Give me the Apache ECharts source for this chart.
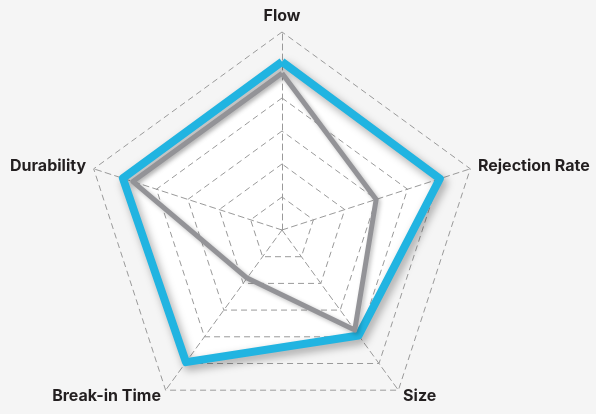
<!DOCTYPE html>
<html>
<head>
<meta charset="utf-8">
<script src="https://cdn.jsdelivr.net/npm/echarts@6/dist/echarts.min.js"></script>
<style>
  html, body { margin: 0; padding: 0; background: #f5f5f5; }
  #chart { width: 596px; height: 414px; }
</style>
</head>
<body>
<div id="chart"></div>
<script>
// axes, counter-clockwise from the top (echarts radar order)
const indicators = ['Flow', 'Durability', 'Break-in Time', 'Size', 'Rejection Rate']
const maxValue = 6
// outer (blue) profile and inner (grey) profile, in ring units
const blueValues = [5.1, 5.07, 4.95, 3.95, 5.03]
const greyValues = [4.75, 4.75, 1.8, 3.75, 3.0]

const chart = echarts.init(document.getElementById('chart'))

// white fill under the grid, lines above it
function areaSeries(values) {
  return {
    type: 'radar',
    symbol: 'none',
    z: 1,
    silent: true,
    lineStyle: { width: 0, opacity: 0 },
    areaStyle: { color: '#ffffff', opacity: 1 },
    data: [{ value: values }]
  }
}

const option = {
  backgroundColor: '#f5f5f5',
  radar: {
    z: 2,
    center: [282, 230],
    radius: 198,
    startAngle: 90,
    splitNumber: 6,
    shape: 'polygon',
    indicator: indicators.map(n => ({ name: n, max: maxValue, min: 0 })),
    axisName: {
      color: '#231f20',
      fontFamily: 'Inter',
      fontWeight: 'bold',
      fontSize: 16
    },
    nameGap: 8,
    axisLine: {
      lineStyle: { color: '#9a9a9a', type: [6, 4], width: 1 }
    },
    splitLine: {
      lineStyle: { color: '#9a9a9a', type: [6, 4], width: 1 }
    },
    splitArea: { show: false }
  },
  series: [
    areaSeries(blueValues),
    {
      type: 'radar',
      symbol: 'none',
      z: 3,
      lineStyle: {
        color: '#21b4e1',
        width: 8,
        shadowColor: 'rgba(0,0,0,0.35)',
        shadowBlur: 8,
        shadowOffsetX: 3,
        shadowOffsetY: 4
      },
      data: [{ value: blueValues }]
    },
    {
      type: 'radar',
      symbol: 'none',
      z: 4,
      lineStyle: {
        color: '#939397',
        width: 5,
        shadowColor: 'rgba(0,0,0,0.25)',
        shadowBlur: 4,
        shadowOffsetX: 2,
        shadowOffsetY: 2
      },
      data: [{ value: greyValues }]
    }
  ]
}

chart.setOption(option)
</script>
</body>
</html>
